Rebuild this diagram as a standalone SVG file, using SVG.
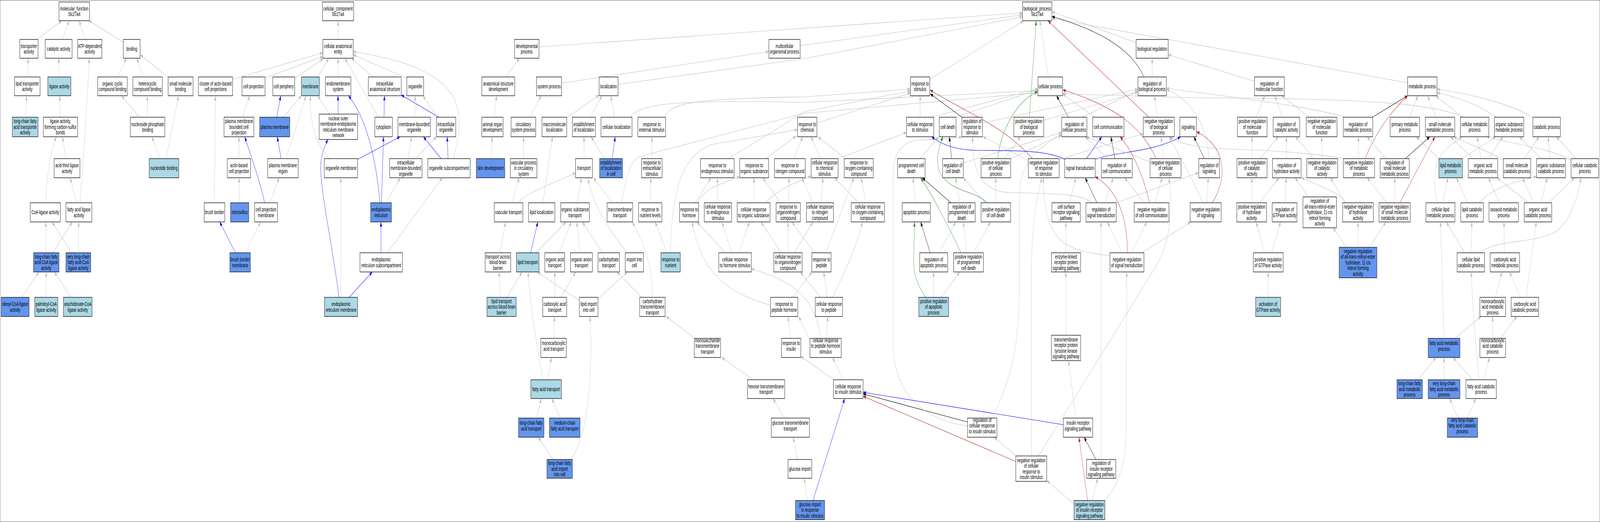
<svg xmlns="http://www.w3.org/2000/svg" width="6863" height="1336" viewBox="0 0 6863 1336" preserveAspectRatio="none">
<style>
svg:root{width:100vw;height:100vh}
text{font-family:"Liberation Sans",Arial,sans-serif;font-size:14.5px;text-anchor:middle;fill:#000}
rect{stroke:#000;stroke-width:1.3}
.w{fill:#fff}.l{fill:#add8e6}.c{fill:#6495ed}
path{fill:none;stroke-width:1.1}
.g{stroke:#c0c0c0;marker-end:url(#ag)}
.b{stroke:#0000ff;marker-end:url(#ab)}
.k{stroke:#000;marker-end:url(#ak)}
.r{stroke:#b22222;marker-end:url(#ar)}
.v{stroke:#228b22;marker-end:url(#av)}
</style>
<defs>
<marker id="ag" viewBox="0 0 12 9" refX="12" refY="4.5" markerWidth="12" markerHeight="9" markerUnits="userSpaceOnUse" orient="auto"><polygon points="0,0 12,4.5 0,9" fill="#c0c0c0"/></marker>
<marker id="ab" viewBox="0 0 12 9" refX="12" refY="4.5" markerWidth="12" markerHeight="9" markerUnits="userSpaceOnUse" orient="auto"><polygon points="0,0 12,4.5 0,9" fill="#0000ff"/></marker>
<marker id="ak" viewBox="0 0 12 9" refX="12" refY="4.5" markerWidth="12" markerHeight="9" markerUnits="userSpaceOnUse" orient="auto"><polygon points="0,0 12,4.5 0,9" fill="#000"/></marker>
<marker id="ar" viewBox="0 0 12 9" refX="12" refY="4.5" markerWidth="12" markerHeight="9" markerUnits="userSpaceOnUse" orient="auto"><polygon points="0,0 12,4.5 0,9" fill="#b22222"/></marker>
<marker id="av" viewBox="0 0 12 9" refX="12" refY="4.5" markerWidth="12" markerHeight="9" markerUnits="userSpaceOnUse" orient="auto"><polygon points="0,0 12,4.5 0,9" fill="#228b22"/></marker>
</defs>
<rect x="0" y="0" width="6863" height="1336" fill="#fff" stroke="none"/>
<g id="connectors">
<path class="g" d="M160,101 L265,53"/>
<path class="g" d="M268,101 L297,53"/>
<path class="g" d="M367,101 L339,53"/>
<path class="g" d="M529,108 L381,53"/>
<path class="g" d="M119,197 L121,149"/>
<path class="g" d="M254,197 L252,149"/>
<path class="g" d="M110,300 L114,245"/>
<path class="g" d="M258,300 L256,245"/>
<path class="g" d="M282,406 L268,350"/>
<path class="g" d="M197,519 C200,450 215,390 242,350"/>
<path class="g" d="M328,519 L301,455"/>
<path class="g" d="M343,519 C360,400 375,250 383,149"/>
<path class="g" d="M198,647 L196,568"/>
<path class="g" d="M227,647 L310,568"/>
<path class="g" d="M307,647 L223,568"/>
<path class="g" d="M337,647 L337,568"/>
<path class="g" d="M93,761 L167,696"/>
<path class="g" d="M198,761 L198,696"/>
<path class="g" d="M304,761 L233,696"/>
<path class="g" d="M504,197 L543,149"/>
<path class="g" d="M615,197 L587,149"/>
<path class="g" d="M721,197 L601,140"/>
<path class="g" d="M598,300 L521,245"/>
<path class="g" d="M632,300 L632,245"/>
<path class="g" d="M688,406 L651,350"/>
<path class="g" d="M712,406 L766,245"/>
<path class="g" d="M1450,101 L1450,53"/>
<path class="g" d="M998,203 L1385,135"/>
<path class="g" d="M1137,199 L1385,145"/>
<path class="g" d="M1264,201 L1387,150"/>
<path class="g" d="M1363,197 L1410,149"/>
<path class="g" d="M1450,197 L1450,149"/>
<path class="g" d="M1623,300 L1479,149"/>
<path class="g" d="M1600,197 L1508,149"/>
<path class="g" d="M1745,200 L1515,140"/>
<path class="g" d="M1944,406 C1975,340 1985,280 1930,235 C1850,170 1650,145 1515,132"/>
<path class="b" d="M1187,300 L1204,245"/>
<path class="g" d="M1215,300 L1293,245"/>
<path class="b" d="M1206,406 L1189,350"/>
<path class="g" d="M1227,406 L1313,245"/>
<path class="g" d="M1413,406 C1360,370 1330,330 1331,245"/>
<path class="g" d="M1414,292 L1363,245"/>
<path class="b" d="M1450,292 L1450,245"/>
<path class="b" d="M1630,519 C1615,420 1580,310 1495,245"/>
<path class="b" d="M1636,519 L1645,350"/>
<path class="g" d="M1656,519 L1717,455"/>
<path class="b" d="M1647,300 L1649,245"/>
<path class="b" d="M1882,300 L1721,243"/>
<path class="g" d="M1876,300 L1814,245"/>
<path class="g" d="M1779,300 L1781,245"/>
<path class="b" d="M1534,408 L1716,350"/>
<path class="g" d="M1749,406 L1766,350"/>
<path class="g" d="M1782,406 L1872,350"/>
<path class="b" d="M1892,406 L1816,350"/>
<path class="b" d="M1922,406 L1918,350"/>
<path class="b" d="M1634,647 L1634,568"/>
<path class="g" d="M1662,647 L1897,455"/>
<path class="b" d="M1498,761 L1597,696"/>
<path class="g" d="M1462,761 L1462,455"/>
<path class="b" d="M1454,761 C1430,640 1370,480 1376,420 C1380,390 1395,370 1407,357"/>
<path class="g" d="M1040,300 L1071,245"/>
<path class="g" d="M1025,406 L1025,350"/>
<path class="b" d="M1135,519 C1110,450 1075,400 1050,350"/>
<path class="g" d="M1157,519 L1198,455"/>
<path class="g" d="M1027,519 L1025,455"/>
<path class="g" d="M920,519 L924,245"/>
<path class="b" d="M1010,647 L942,568"/>
<path class="g" d="M1052,647 L1118,568"/>
<path class="g" d="M2312,120 L4386,33"/>
<path class="g" d="M3432,117 L4386,38"/>
<path class="g" d="M2651,216 L3450,150 L4386,43"/>
<path class="g" d="M3988,203 L4389,54"/>
<path class="g" d="M4873,109 L4512,30"/>
<path class="g" d="M6038,212 L4512,47"/>
<path class="k" d="M4907,197 C4850,120 4700,75 4512,42"/>
<path class="g" d="M4497,197 L4460,53"/>
<path class="v" d="M4415,300 L4445,53"/>
<path class="r" d="M4928,300 L4495,53"/>
<path class="g" d="M2409,213 L3298,132"/>
<path class="g" d="M2169,197 L2228,149"/>
<path class="g" d="M2120,300 L2130,245"/>
<path class="g" d="M2107,406 L2111,350"/>
<path class="g" d="M2272,300 L2322,245"/>
<path class="g" d="M2246,406 L2246,350"/>
<path class="g" d="M2195,519 L2228,455"/>
<path class="g" d="M2222,519 C2260,490 2380,470 2469,442"/>
<path class="g" d="M2145,647 L2169,568"/>
<path class="g" d="M2147,761 L2140,696"/>
<path class="g" d="M2175,761 L2239,696"/>
<path class="b" d="M2276,647 L2307,568"/>
<path class="g" d="M2300,647 L2428,568"/>
<path class="g" d="M2329,519 L2370,350"/>
<path class="g" d="M2431,302 L2570,243"/>
<path class="g" d="M2531,300 L2582,245"/>
<path class="g" d="M2636,300 L2620,245"/>
<path class="g" d="M2505,406 L2505,350"/>
<path class="g" d="M2593,406 L2535,350"/>
<path class="b" d="M2626,406 L2639,350"/>
<path class="g" d="M2476,519 L2494,455"/>
<path class="g" d="M2628,519 L2546,455"/>
<path class="g" d="M2398,647 L2450,568"/>
<path class="g" d="M2489,647 L2474,568"/>
<path class="g" d="M2585,647 L2498,568"/>
<path class="g" d="M2689,647 C2630,600 2550,540 2522,457"/>
<path class="g" d="M2380,761 L2380,696"/>
<path class="g" d="M2405,761 L2470,696"/>
<path class="g" d="M2565,765 L2691,696"/>
<path class="g" d="M2485,769 L2305,696"/>
<path class="g" d="M2753,761 L2646,696"/>
<path class="g" d="M2799,761 C2800,680 2760,620 2712,568"/>
<path class="g" d="M2981,866 L2857,810"/>
<path class="g" d="M3230,972 L3096,915"/>
<path class="g" d="M3364,1070 L3316,1020"/>
<path class="g" d="M3421,1176 L3402,1119"/>
<path class="g" d="M3462,1281 L3450,1224"/>
<path class="b" d="M3487,1281 L3623,1020"/>
<path class="g" d="M2375,866 L2378,810"/>
<path class="g" d="M2350,972 L2365,915"/>
<path class="g" d="M2328,972 C2310,900 2275,800 2265,696"/>
<path class="g" d="M2300,1070 L2322,1020"/>
<path class="g" d="M2403,1070 L2367,1020"/>
<path class="g" d="M2372,1176 L2309,1119"/>
<path class="g" d="M2447,1176 C2510,1130 2545,1000 2531,810"/>
<path class="g" d="M2848,300 C2880,265 2950,252 3450,248 L3905,228"/>
<path class="g" d="M2700,300 C2750,265 2880,255 3450,262 L4452,232"/>
<path class="g" d="M2796,406 L2796,350"/>
<path class="g" d="M2789,519 L2792,455"/>
<path class="g" d="M2861,647 L2810,568"/>
<path class="g" d="M2876,647 C2880,480 2930,400 3050,370 L3421,332"/>
<path class="g" d="M2667,519 C2690,430 2710,405 2760,398 L3450,290 L4452,237"/>
<path class="g" d="M3125,406 L3450,286 L3905,233"/>
<path class="g" d="M3504,315 L3905,238"/>
<path class="g" d="M3947,300 L3947,245"/>
<path class="g" d="M3996,300 L4452,227"/>
<path class="g" d="M4095,300 L4452,230"/>
<path class="k" d="M4126,300 L3990,240"/>
<path class="r" d="M4429,406 C4300,320 4150,290 3989,230"/>
<path class="k" d="M4583,300 L4532,245"/>
<path class="v" d="M4279,406 C4295,330 4360,260 4451,234"/>
<path class="r" d="M4959,406 C4900,330 4800,275 4559,230"/>
<path class="g" d="M3286,406 L3415,348"/>
<path class="g" d="M3404,406 L3443,350"/>
<path class="g" d="M3520,406 L3479,350"/>
<path class="g" d="M3595,406 L3888,339"/>
<path class="g" d="M3626,406 L3509,350"/>
<path class="g" d="M2982,519 L3049,455"/>
<path class="g" d="M2993,519 C3020,480 3100,470 3173,452"/>
<path class="g" d="M3079,519 L3077,455"/>
<path class="g" d="M3234,519 L3234,455"/>
<path class="g" d="M3281,519 C3350,480 3420,465 3479,451"/>
<path class="g" d="M3349,519 L3272,455"/>
<path class="g" d="M3382,519 L3385,455"/>
<path class="g" d="M3112,647 L2989,568"/>
<path class="g" d="M3138,647 L3097,568"/>
<path class="g" d="M3169,647 L3215,568"/>
<path class="g" d="M3351,647 L3264,568"/>
<path class="g" d="M3381,647 L3381,568"/>
<path class="g" d="M3407,647 L3487,568"/>
<path class="g" d="M3305,781 C3120,750 3010,700 2968,568"/>
<path class="g" d="M3400,761 L3483,696"/>
<path class="g" d="M3549,761 L3533,696"/>
<path class="g" d="M3520,761 L3433,696"/>
<path class="g" d="M3571,761 C3620,700 3670,640 3699,568"/>
<path class="g" d="M3494,647 L3397,568"/>
<path class="g" d="M3542,647 L3663,455"/>
<path class="g" d="M3487,519 L3440,455"/>
<path class="g" d="M3522,519 L3530,455"/>
<path class="g" d="M3683,519 L3580,455"/>
<path class="g" d="M3714,519 L3694,455"/>
<path class="g" d="M3474,870 L3426,810"/>
<path class="g" d="M3520,866 C3500,780 3440,725 3223,688"/>
<path class="g" d="M3545,866 L3551,810"/>
<path class="g" d="M3391,866 L3380,810"/>
<path class="g" d="M3577,972 L3435,912"/>
<path class="g" d="M3617,972 L3571,915"/>
<path class="k" d="M4150,1080 L3702,1008"/>
<path class="g" d="M4150,1090 C3950,1075 3831,1000 3831,880 L3831,450 C3831,390 3870,360 3950,358 C4050,356 4100,355 4126,350"/>
<path class="r" d="M4357,1181 L3702,1014"/>
<path class="g" d="M4359,1167 L4264,1119"/>
<path class="g" d="M4424,1167 L4424,700 C4424,600 4440,520 4469,455"/>
<path class="g" d="M4455,1167 L4960,680 C5020,620 5030,540 5014,455"/>
<path class="g" d="M4607,1290 L4490,1230"/>
<path class="g" d="M4257,1070 C4340,960 4373,900 4373,700 L4373,500 C4373,420 4450,375 4554,346"/>
<path class="g" d="M3946,406 L4026,350"/>
<path class="k" d="M4082,406 L4072,350"/>
<path class="g" d="M4132,417 L4554,339"/>
<path class="g" d="M4307,406 L4378,350"/>
<path class="g" d="M4336,406 L4554,344"/>
<path class="g" d="M4411,411 L4216,350"/>
<path class="g" d="M4543,408 L4904,342"/>
<path class="g" d="M3927,519 L3916,455"/>
<path class="k" d="M4079,519 L3956,455"/>
<path class="g" d="M4117,519 L4099,455"/>
<path class="g" d="M4227,519 L4132,455"/>
<path class="v" d="M4233,519 C4180,485 4080,495 4030,440 C4010,410 4030,370 4045,350"/>
<path class="g" d="M4271,519 L4271,455"/>
<path class="k" d="M3990,647 L3949,568"/>
<path class="g" d="M4028,647 L4099,568"/>
<path class="v" d="M4122,647 C4070,580 4000,500 3949,455"/>
<path class="g" d="M4147,647 L4132,568"/>
<path class="g" d="M4176,647 L4248,568"/>
<path class="v" d="M3971,761 C3925,720 3919,700 3919,650 L3923,568"/>
<path class="g" d="M4005,761 L4005,696"/>
<path class="g" d="M4037,761 L4117,696"/>
<path class="g" d="M4587,519 L4615,455"/>
<path class="g" d="M4572,647 L4572,568"/>
<path class="g" d="M4572,858 L4572,696"/>
<path class="g" d="M4615,1070 L4583,923"/>
<path class="b" d="M4561,1087 L3702,1004"/>
<path class="k" d="M4701,1176 L4650,1119"/>
<path class="r" d="M4665,1281 L4628,1119"/>
<path class="g" d="M4684,1281 L4709,1224"/>
<path class="g" d="M4739,1281 C4800,1240 4831,1180 4831,1100 L4833,696"/>
<path class="g" d="M4723,1176 L4723,568"/>
<path class="b" d="M4660,406 L4726,350"/>
<path class="b" d="M4699,408 C4780,388 4950,390 5064,350"/>
<path class="b" d="M4567,408 C4500,385 4350,385 4200,385 C4100,385 4040,370 3996,350"/>
<path class="g" d="M4695,300 L4558,240"/>
<path class="g" d="M4640,300 L4881,232"/>
<path class="g" d="M4477,308 L4881,236"/>
<path class="g" d="M4214,315 L4881,228"/>
<path class="g" d="M4964,300 L4952,245"/>
<path class="g" d="M4942,197 L4942,149"/>
<path class="g" d="M5381,208 L5011,140"/>
<path class="k" d="M4782,406 L4765,350"/>
<path class="g" d="M4750,406 L4655,350"/>
<path class="g" d="M4992,406 L4980,350"/>
<path class="g" d="M4934,415 L4660,350"/>
<path class="k" d="M5166,406 L5121,350"/>
<path class="g" d="M5185,406 C5180,320 5110,255 5003,229"/>
<path class="k" d="M4705,519 L4655,455"/>
<path class="g" d="M4739,519 L4775,455"/>
<path class="g" d="M4789,519 L5141,442"/>
<path class="g" d="M4684,519 C4640,498 4560,495 4330,493 C4200,490 4170,430 4172,350"/>
<path class="r" d="M4931,519 C4900,440 4850,380 4804,350"/>
<path class="g" d="M4908,519 L4824,455"/>
<path class="g" d="M4954,519 L4985,455"/>
<path class="r" d="M5200,519 C5260,460 5270,380 5133,337"/>
<path class="g" d="M5176,519 L5183,455"/>
<path class="g" d="M5159,519 C5120,460 5060,400 5014,350"/>
<path class="r" d="M4836,647 C4835,560 4800,490 4698,452"/>
<path class="g" d="M4813,647 L4750,568"/>
<path class="g" d="M4853,647 L4919,568"/>
<path class="g" d="M4897,647 L5108,568"/>
<path class="g" d="M4761,655 C4600,640 4476,640 4475,455"/>
<path class="g" d="M5771,300 C5600,270 5300,250 5003,226"/>
<path class="g" d="M5762,406 C5700,398 5500,385 5300,382 C5150,380 5060,370 5018,350"/>
<path class="g" d="M6275,300 C6150,262 5800,252 5100,250 L4558,240"/>
<path class="g" d="M5388,300 L5425,245"/>
<path class="g" d="M5501,300 L5468,245"/>
<path class="g" d="M5616,300 L5498,245"/>
<path class="g" d="M5370,406 L5370,350"/>
<path class="g" d="M5405,406 L5484,350"/>
<path class="g" d="M5518,406 L5518,350"/>
<path class="g" d="M5636,406 L5557,350"/>
<path class="g" d="M5671,406 L5669,350"/>
<path class="g" d="M5370,519 L5370,455"/>
<path class="g" d="M5403,519 L5486,455"/>
<path class="g" d="M5513,519 L5517,455"/>
<path class="g" d="M5612,504 L5555,455"/>
<path class="g" d="M5770,519 C5760,500 5700,485 5583,455"/>
<path class="g" d="M5771,519 L5707,455"/>
<path class="g" d="M5425,647 L5388,568"/>
<path class="g" d="M5454,647 L5493,568"/>
<path class="g" d="M5440,761 L5440,696"/>
<path class="g" d="M5775,633 L5718,583"/>
<path class="g" d="M5825,633 L5825,568"/>
<path class="g" d="M5874,633 L5945,568"/>
<path class="k" d="M5887,300 L6038,245"/>
<path class="r" d="M5855,406 C5900,340 5960,290 6038,245"/>
<path class="g" d="M5828,406 L5827,350"/>
<path class="g" d="M5945,406 L5864,350"/>
<path class="k" d="M6028,406 L6133,350"/>
<path class="g" d="M5983,519 L5983,455"/>
<path class="r" d="M6004,519 L6155,350"/>
<path class="g" d="M5949,519 L5864,455"/>
<path class="g" d="M6045,300 L6082,245"/>
<path class="g" d="M6160,300 L6123,245"/>
<path class="g" d="M6275,300 L6158,245"/>
<path class="g" d="M6417,300 C6350,270 6260,250 6164,237"/>
<path class="g" d="M6573,300 C6480,265 6300,240 6164,228"/>
<path class="g" d="M6172,406 L6075,350"/>
<path class="g" d="M6272,406 L6416,350"/>
<path class="g" d="M6189,519 L6211,455"/>
<path class="g" d="M6165,519 C6140,430 6150,395 6272,350"/>
<path class="g" d="M6295,519 L6247,455"/>
<path class="g" d="M6346,519 C6400,480 6500,465 6591,452"/>
<path class="g" d="M6318,406 L6222,350"/>
<path class="g" d="M6387,406 L6446,350"/>
<path class="g" d="M6352,406 L6336,350"/>
<path class="g" d="M6448,410 C6380,385 6300,370 6236,350"/>
<path class="g" d="M6538,406 L6602,350"/>
<path class="g" d="M6612,406 L6517,350"/>
<path class="g" d="M6648,406 L6641,350"/>
<path class="g" d="M6761,406 L6676,350"/>
<path class="g" d="M6739,410 C6650,380 6500,370 6378,350"/>
<path class="g" d="M6431,519 L6384,455"/>
<path class="g" d="M6556,519 L6421,455"/>
<path class="g" d="M6577,519 L6531,455"/>
<path class="g" d="M6609,519 L6637,455"/>
<path class="g" d="M6641,519 L6754,455"/>
<path class="g" d="M6282,647 L6204,568"/>
<path class="g" d="M6311,647 L6313,568"/>
<path class="g" d="M6346,647 C6420,610 6600,625 6680,590 C6740,560 6770,500 6781,455"/>
<path class="g" d="M6453,647 L6451,568"/>
<path class="g" d="M6194,866 L6179,568"/>
<path class="g" d="M6241,866 L6353,810"/>
<path class="g" d="M6414,761 L6442,696"/>
<path class="g" d="M6522,761 L6475,696"/>
<path class="g" d="M6546,761 L6590,568"/>
<path class="g" d="M6402,866 L6402,810"/>
<path class="g" d="M6435,866 L6506,810"/>
<path class="g" d="M6082,972 L6160,915"/>
<path class="g" d="M6194,972 L6194,915"/>
<path class="g" d="M6316,972 L6233,915"/>
<path class="g" d="M6364,972 L6389,915"/>
<path class="g" d="M6345,972 C6330,880 6315,780 6311,696"/>
<path class="g" d="M6253,1070 L6218,1020"/>
<path class="g" d="M6293,1070 L6331,1020"/>
</g>
<g id="n_molecular_function"><rect class="w" x="253" y="5" width="131" height="48"/><text x="318.5" y="26.75">molecular_function<tspan x="318.5" dy="14.5">Slc27a4</tspan></text></g>
<g id="n_transporter_activity"><rect class="w" x="85" y="101" width="78" height="48"/><text x="124" y="122.75">transporter<tspan x="124" dy="14.5">activity</tspan></text></g>
<g id="n_catalytic_activity"><rect class="w" x="194" y="101" width="115" height="48"/><text x="251.5" y="130">catalytic activity</text></g>
<g id="n_atp_dependent_activity"><rect class="w" x="333" y="101" width="104" height="48"/><text x="385" y="122.75">ATP-dependent<tspan x="385" dy="14.5">activity</tspan></text></g>
<g id="n_binding"><rect class="w" x="529" y="101" width="72" height="48"/><text x="565" y="130">binding</text></g>
<g id="n_lipid_transporter_activity"><rect class="w" x="62" y="197" width="110" height="48"/><text x="117" y="218.75">lipid transporter<tspan x="117" dy="14.5">activity</tspan></text></g>
<g id="n_ligase_activity"><rect class="l" x="205" y="197" width="99" height="48"/><text x="254.5" y="226">ligase activity</text></g>
<g id="n_organic_cyclic_compound_binding"><rect class="w" x="419" y="197" width="127" height="48"/><text x="482.5" y="218.75">organic cyclic<tspan x="482.5" dy="14.5">compound binding</tspan></text></g>
<g id="n_heterocyclic_compound_binding"><rect class="w" x="570" y="197" width="126" height="48"/><text x="633" y="218.75">heterocyclic<tspan x="633" dy="14.5">compound binding</tspan></text></g>
<g id="n_small_molecule_binding"><rect class="w" x="721" y="197" width="107" height="48"/><text x="774.5" y="218.75">small molecule<tspan x="774.5" dy="14.5">binding</tspan></text></g>
<g id="n_lcfa_transporter_activity"><rect class="l" x="53" y="300" width="110" height="50"/><text x="108" y="315.5">long-chain fatty<tspan x="108" dy="14.5">acid transporter</tspan><tspan x="108" dy="14.5">activity</tspan></text></g>
<g id="n_ligase_cs"><rect class="w" x="186" y="300" width="147" height="50"/><text x="259.5" y="315.5">ligase activity,<tspan x="259.5" dy="14.5">forming carbon-sulfur</tspan><tspan x="259.5" dy="14.5">bonds</tspan></text></g>
<g id="n_nucleoside_phosphate_binding"><rect class="w" x="559" y="300" width="148" height="50"/><text x="633" y="322.75">nucleoside phosphate<tspan x="633" dy="14.5">binding</tspan></text></g>
<g id="n_acid_thiol_ligase_activity"><rect class="w" x="232" y="406" width="111" height="49"/><text x="287.5" y="428.25">acid-thiol ligase<tspan x="287.5" dy="14.5">activity</tspan></text></g>
<g id="n_nucleotide_binding"><rect class="l" x="640" y="406" width="127" height="49"/><text x="703.5" y="435.5">nucleotide binding</text></g>
<g id="n_coa_ligase_activity"><rect class="w" x="130" y="519" width="129" height="49"/><text x="194.5" y="548.5">CoA-ligase activity</text></g>
<g id="n_fatty_acid_ligase_activity"><rect class="w" x="283" y="519" width="111" height="49"/><text x="338.5" y="541.25">fatty acid ligase<tspan x="338.5" dy="14.5">activity</tspan></text></g>
<g id="n_lcfa_coa_ligase_activity"><rect class="c" x="144" y="647" width="109" height="49"/><text x="198.5" y="662">long-chain fatty<tspan x="198.5" dy="14.5">acid-CoA ligase</tspan><tspan x="198.5" dy="14.5">activity</tspan></text></g>
<g id="n_vlcfa_coa_ligase_activity"><rect class="c" x="283" y="647" width="106" height="49"/><text x="336" y="662">very long-chain<tspan x="336" dy="14.5">fatty acid-CoA</tspan><tspan x="336" dy="14.5">ligase activity</tspan></text></g>
<g id="n_oleoyl_coa_ligase_activity"><rect class="c" x="5" y="761" width="120" height="49"/><text x="65" y="783.25">oleoyl-CoA ligase<tspan x="65" dy="14.5">activity</tspan></text></g>
<g id="n_palmitoyl_coa_ligase_activity"><rect class="l" x="149" y="761" width="99" height="49"/><text x="198.5" y="783.25">palmitoyl-CoA<tspan x="198.5" dy="14.5">ligase activity</tspan></text></g>
<g id="n_arachidonate_coa_ligase_activity"><rect class="l" x="272" y="761" width="123" height="49"/><text x="333.5" y="783.25">arachidonate-CoA<tspan x="333.5" dy="14.5">ligase activity</tspan></text></g>
<g id="n_cellular_component"><rect class="w" x="1383" y="5" width="134" height="48"/><text x="1450" y="26.75">cellular_component<tspan x="1450" dy="14.5">Slc27a4</tspan></text></g>
<g id="n_cellular_anatomical_entity"><rect class="w" x="1385" y="101" width="130" height="48"/><text x="1450" y="122.75">cellular anatomical<tspan x="1450" dy="14.5">entity</tspan></text></g>
<g id="n_cluster_actin"><rect class="w" x="851" y="197" width="147" height="48"/><text x="924.5" y="218.75">cluster of actin-based<tspan x="924.5" dy="14.5">cell projections</tspan></text></g>
<g id="n_cell_projection"><rect class="w" x="1038" y="197" width="99" height="48"/><text x="1087.5" y="226">cell projection</text></g>
<g id="n_cell_periphery"><rect class="w" x="1170" y="197" width="94" height="48"/><text x="1217" y="226">cell periphery</text></g>
<g id="n_membrane"><rect class="l" x="1293" y="197" width="77" height="48"/><text x="1331.5" y="226">membrane</text></g>
<g id="n_endomembrane_system"><rect class="w" x="1396" y="197" width="109" height="48"/><text x="1450.5" y="218.75">endomembrane<tspan x="1450.5" dy="14.5">system</tspan></text></g>
<g id="n_intracellular_anatomical_structure"><rect class="w" x="1580" y="197" width="141" height="48"/><text x="1650.5" y="218.75">intracellular<tspan x="1650.5" dy="14.5">anatomical structure</tspan></text></g>
<g id="n_organelle"><rect class="w" x="1745" y="197" width="72" height="48"/><text x="1781" y="226">organelle</text></g>
<g id="n_pm_bounded_cell_projection"><rect class="w" x="961" y="300" width="128" height="50"/><text x="1025" y="315.5">plasma membrane<tspan x="1025" dy="14.5">bounded cell</tspan><tspan x="1025" dy="14.5">projection</tspan></text></g>
<g id="n_plasma_membrane"><rect class="c" x="1114" y="300" width="129" height="50"/><text x="1178.5" y="330">plasma membrane</text></g>
<g id="n_nuclear_outer_membrane_er_network"><rect class="w" x="1369" y="292" width="165" height="65"/><text x="1451.5" y="307.75">nuclear outer<tspan x="1451.5" dy="14.5">membrane-endoplasmic</tspan><tspan x="1451.5" dy="14.5">reticulum membrane</tspan><tspan x="1451.5" dy="14.5">network</tspan></text></g>
<g id="n_cytoplasm"><rect class="w" x="1608" y="300" width="75" height="50"/><text x="1645.5" y="330">cytoplasm</text></g>
<g id="n_membrane_bounded_organelle"><rect class="w" x="1707" y="300" width="139" height="50"/><text x="1776.5" y="322.75">membrane-bounded<tspan x="1776.5" dy="14.5">organelle</tspan></text></g>
<g id="n_intracellular_organelle"><rect class="w" x="1872" y="300" width="83" height="50"/><text x="1913.5" y="322.75">intracellular<tspan x="1913.5" dy="14.5">organelle</tspan></text></g>
<g id="n_actin_based_cell_projection"><rect class="w" x="975" y="406" width="100" height="49"/><text x="1025" y="428.25">actin-based<tspan x="1025" dy="14.5">cell projection</tspan></text></g>
<g id="n_plasma_membrane_region"><rect class="w" x="1148" y="406" width="131" height="49"/><text x="1213.5" y="428.25">plasma membrane<tspan x="1213.5" dy="14.5">region</tspan></text></g>
<g id="n_organelle_membrane"><rect class="w" x="1391" y="406" width="143" height="49"/><text x="1462.5" y="435.5">organelle membrane</text></g>
<g id="n_intracellular_mbo"><rect class="w" x="1671" y="406" width="139" height="49"/><text x="1740.5" y="421">intracellular<tspan x="1740.5" dy="14.5">membrane-bounded</tspan><tspan x="1740.5" dy="14.5">organelle</tspan></text></g>
<g id="n_organelle_subcompartment"><rect class="w" x="1835" y="406" width="182" height="49"/><text x="1926" y="435.5">organelle subcompartment</text></g>
<g id="n_brush_border"><rect class="w" x="876" y="519" width="88" height="49"/><text x="920" y="548.5">brush border</text></g>
<g id="n_microvillus"><rect class="c" x="989" y="519" width="78" height="49"/><text x="1028" y="548.5">microvillus</text></g>
<g id="n_cell_projection_membrane"><rect class="w" x="1092" y="519" width="98" height="49"/><text x="1141" y="541.25">cell projection<tspan x="1141" dy="14.5">membrane</tspan></text></g>
<g id="n_endoplasmic_reticulum"><rect class="c" x="1590" y="519" width="89" height="49"/><text x="1634.5" y="541.25">endoplasmic<tspan x="1634.5" dy="14.5">reticulum</tspan></text></g>
<g id="n_brush_border_membrane"><rect class="c" x="986" y="647" width="88" height="49"/><text x="1030" y="669.25">brush border<tspan x="1030" dy="14.5">membrane</tspan></text></g>
<g id="n_er_subcompartment"><rect class="w" x="1544" y="647" width="182" height="49"/><text x="1635" y="669.25">endoplasmic<tspan x="1635" dy="14.5">reticulum subcompartment</tspan></text></g>
<g id="n_er_membrane"><rect class="l" x="1392" y="761" width="142" height="49"/><text x="1463" y="783.25">endoplasmic<tspan x="1463" dy="14.5">reticulum membrane</tspan></text></g>
<g id="n_biological_process"><rect class="w" x="4386" y="5" width="126" height="48"/><text x="4449" y="26.75">biological_process<tspan x="4449" dy="14.5">Slc27a4</tspan></text></g>
<g id="n_developmental_process"><rect class="w" x="2207" y="101" width="105" height="48"/><text x="2259.5" y="122.75">developmental<tspan x="2259.5" dy="14.5">process</tspan></text></g>
<g id="n_multicellular_organismal_process"><rect class="w" x="3298" y="101" width="134" height="48"/><text x="3365" y="122.75">multicellular<tspan x="3365" dy="14.5">organismal process</tspan></text></g>
<g id="n_biological_regulation"><rect class="w" x="4873" y="101" width="138" height="48"/><text x="4942" y="130">biological regulation</text></g>
<g id="n_anatomical_structure_development"><rect class="w" x="2067" y="197" width="141" height="48"/><text x="2137.5" y="218.75">anatomical structure<tspan x="2137.5" dy="14.5">development</tspan></text></g>
<g id="n_system_process"><rect class="w" x="2301" y="197" width="108" height="48"/><text x="2355" y="226">system process</text></g>
<g id="n_localization"><rect class="w" x="2570" y="197" width="81" height="48"/><text x="2610.5" y="226">localization</text></g>
<g id="n_response_to_stimulus"><rect class="w" x="3905" y="197" width="83" height="48"/><text x="3946.5" y="218.75">response to<tspan x="3946.5" dy="14.5">stimulus</tspan></text></g>
<g id="n_cellular_process"><rect class="w" x="4452" y="197" width="106" height="48"/><text x="4505" y="226">cellular process</text></g>
<g id="n_regulation_of_biological_process"><rect class="w" x="4881" y="197" width="122" height="48"/><text x="4942" y="218.75">regulation of<tspan x="4942" dy="14.5">biological process</tspan></text></g>
<g id="n_regulation_of_molecular_function"><rect class="w" x="5381" y="197" width="128" height="48"/><text x="5445" y="218.75">regulation of<tspan x="5445" dy="14.5">molecular function</tspan></text></g>
<g id="n_metabolic_process"><rect class="w" x="6038" y="197" width="126" height="48"/><text x="6101" y="226">metabolic process</text></g>
<g id="n_animal_organ_development"><rect class="w" x="2067" y="300" width="91" height="50"/><text x="2112.5" y="322.75">animal organ<tspan x="2112.5" dy="14.5">development</tspan></text></g>
<g id="n_circulatory_system_process"><rect class="w" x="2192" y="300" width="106" height="50"/><text x="2245" y="322.75">circulatory<tspan x="2245" dy="14.5">system process</tspan></text></g>
<g id="n_macromolecule_localization"><rect class="w" x="2325" y="300" width="106" height="50"/><text x="2378" y="322.75">macromolecule<tspan x="2378" dy="14.5">localization</tspan></text></g>
<g id="n_establishment_of_localization"><rect class="w" x="2455" y="300" width="99" height="50"/><text x="2504.5" y="322.75">establishment<tspan x="2504.5" dy="14.5">of localization</tspan></text></g>
<g id="n_cellular_localization"><rect class="w" x="2578" y="300" width="133" height="50"/><text x="2644.5" y="330">cellular localization</text></g>
<g id="n_response_to_external_stimulus"><rect class="w" x="2736" y="300" width="119" height="50"/><text x="2795.5" y="322.75">response to<tspan x="2795.5" dy="14.5">external stimulus</tspan></text></g>
<g id="n_response_to_chemical"><rect class="w" x="3421" y="300" width="83" height="50"/><text x="3462.5" y="322.75">response to<tspan x="3462.5" dy="14.5">chemical</tspan></text></g>
<g id="n_cellular_response_to_stimulus"><rect class="w" x="3888" y="300" width="117" height="50"/><text x="3946.5" y="322.75">cellular response<tspan x="3946.5" dy="14.5">to stimulus</tspan></text></g>
<g id="n_cell_death"><rect class="w" x="4029" y="300" width="72" height="50"/><text x="4065" y="330">cell death</text></g>
<g id="n_regulation_of_response_to_stimulus"><rect class="w" x="4126" y="300" width="88" height="50"/><text x="4170" y="315.5">regulation of<tspan x="4170" dy="14.5">response to</tspan><tspan x="4170" dy="14.5">stimulus</tspan></text></g>
<g id="n_pos_reg_biological_process"><rect class="w" x="4349" y="300" width="128" height="50"/><text x="4413" y="315.5">positive regulation<tspan x="4413" dy="14.5">of biological</tspan><tspan x="4413" dy="14.5">process</tspan></text></g>
<g id="n_regulation_of_cellular_process"><rect class="w" x="4554" y="300" width="108" height="50"/><text x="4608" y="322.75">regulation of<tspan x="4608" dy="14.5">cellular process</tspan></text></g>
<g id="n_cell_communication"><rect class="w" x="4687" y="300" width="134" height="50"/><text x="4754" y="330">cell communication</text></g>
<g id="n_neg_reg_biological_process"><rect class="w" x="4904" y="300" width="133" height="50"/><text x="4970.5" y="315.5">negative regulation<tspan x="4970.5" dy="14.5">of biological</tspan><tspan x="4970.5" dy="14.5">process</tspan></text></g>
<g id="n_signaling"><rect class="w" x="5061" y="300" width="71" height="50"/><text x="5096.5" y="330">signaling</text></g>
<g id="n_pos_reg_molecular_function"><rect class="w" x="5308" y="300" width="127" height="50"/><text x="5371.5" y="315.5">positive regulation<tspan x="5371.5" dy="14.5">of molecular</tspan><tspan x="5371.5" dy="14.5">function</tspan></text></g>
<g id="n_regulation_of_catalytic_activity"><rect class="w" x="5461" y="300" width="114" height="50"/><text x="5518" y="322.75">regulation of<tspan x="5518" dy="14.5">catalytic activity</tspan></text></g>
<g id="n_neg_reg_molecular_function"><rect class="w" x="5603" y="300" width="132" height="50"/><text x="5669" y="315.5">negative regulation<tspan x="5669" dy="14.5">of molecular</tspan><tspan x="5669" dy="14.5">function</tspan></text></g>
<g id="n_regulation_of_metabolic_process"><rect class="w" x="5762" y="300" width="126" height="50"/><text x="5825" y="322.75">regulation of<tspan x="5825" dy="14.5">metabolic process</tspan></text></g>
<g id="n_primary_metabolic_process"><rect class="w" x="5963" y="300" width="126" height="50"/><text x="6026" y="322.75">primary metabolic<tspan x="6026" dy="14.5">process</tspan></text></g>
<g id="n_small_molecule_metabolic_process"><rect class="w" x="6114" y="300" width="126" height="50"/><text x="6177" y="322.75">small molecule<tspan x="6177" dy="14.5">metabolic process</tspan></text></g>
<g id="n_cellular_metabolic_process"><rect class="w" x="6264" y="300" width="122" height="50"/><text x="6325" y="322.75">cellular metabolic<tspan x="6325" dy="14.5">process</tspan></text></g>
<g id="n_organic_substance_metabolic_process"><rect class="w" x="6410" y="300" width="126" height="50"/><text x="6473" y="322.75">organic substance<tspan x="6473" dy="14.5">metabolic process</tspan></text></g>
<g id="n_catabolic_process"><rect class="w" x="6575" y="300" width="118" height="50"/><text x="6634" y="330">catabolic process</text></g>
<g id="n_skin_development"><rect class="c" x="2043" y="406" width="122" height="49"/><text x="2104" y="435.5">skin development</text></g>
<g id="n_vascular_process"><rect class="w" x="2189" y="406" width="114" height="49"/><text x="2246" y="421">vascular process<tspan x="2246" dy="14.5">in circulatory</tspan><tspan x="2246" dy="14.5">system</tspan></text></g>
<g id="n_transport"><rect class="w" x="2469" y="406" width="72" height="49"/><text x="2505" y="435.5">transport</text></g>
<g id="n_establishment_of_localization_in_cell"><rect class="c" x="2572" y="406" width="98" height="49"/><text x="2621" y="421">establishment<tspan x="2621" dy="14.5">of localization</tspan><tspan x="2621" dy="14.5">in cell</tspan></text></g>
<g id="n_response_to_extracellular_stimulus"><rect class="w" x="2752" y="406" width="88" height="49"/><text x="2796" y="421">response to<tspan x="2796" dy="14.5">extracellular</tspan><tspan x="2796" dy="14.5">stimulus</tspan></text></g>
<g id="n_response_to_endogenous_stimulus"><rect class="w" x="3005" y="406" width="144" height="49"/><text x="3077" y="428.25">response to<tspan x="3077" dy="14.5">endogenous stimulus</tspan></text></g>
<g id="n_response_to_organic_substance"><rect class="w" x="3173" y="406" width="124" height="49"/><text x="3235" y="428.25">response to<tspan x="3235" dy="14.5">organic substance</tspan></text></g>
<g id="n_response_to_nitrogen_compound"><rect class="w" x="3322" y="406" width="132" height="49"/><text x="3388" y="428.25">response to<tspan x="3388" dy="14.5">nitrogen compound</tspan></text></g>
<g id="n_cellular_response_to_chemical_stimulus"><rect class="w" x="3479" y="406" width="116" height="49"/><text x="3537" y="421">cellular response<tspan x="3537" dy="14.5">to chemical</tspan><tspan x="3537" dy="14.5">stimulus</tspan></text></g>
<g id="n_response_to_oxygen_containing_compound"><rect class="w" x="3621" y="406" width="125" height="49"/><text x="3683.5" y="421">response to<tspan x="3683.5" dy="14.5">oxygen-containing</tspan><tspan x="3683.5" dy="14.5">compound</tspan></text></g>
<g id="n_programmed_cell_death"><rect class="w" x="3850" y="406" width="118" height="49"/><text x="3909" y="428.25">programmed cell<tspan x="3909" dy="14.5">death</tspan></text></g>
<g id="n_regulation_of_cell_death"><rect class="w" x="4043" y="406" width="89" height="49"/><text x="4087.5" y="428.25">regulation of<tspan x="4087.5" dy="14.5">cell death</tspan></text></g>
<g id="n_pos_reg_cellular_process"><rect class="w" x="4208" y="406" width="127" height="49"/><text x="4271.5" y="421">positive regulation<tspan x="4271.5" dy="14.5">of cellular</tspan><tspan x="4271.5" dy="14.5">process</tspan></text></g>
<g id="n_neg_reg_response_to_stimulus"><rect class="w" x="4411" y="406" width="132" height="49"/><text x="4477" y="421">negative regulation<tspan x="4477" dy="14.5">of response</tspan><tspan x="4477" dy="14.5">to stimulus</tspan></text></g>
<g id="n_signal_transduction"><rect class="w" x="4567" y="406" width="131" height="49"/><text x="4632.5" y="435.5">signal transduction</text></g>
<g id="n_regulation_of_cell_communication"><rect class="w" x="4724" y="406" width="133" height="49"/><text x="4790.5" y="428.25">regulation of<tspan x="4790.5" dy="14.5">cell communication</tspan></text></g>
<g id="n_neg_reg_cellular_process"><rect class="w" x="4933" y="406" width="133" height="49"/><text x="4999.5" y="421">negative regulation<tspan x="4999.5" dy="14.5">of cellular</tspan><tspan x="4999.5" dy="14.5">process</tspan></text></g>
<g id="n_regulation_of_signaling"><rect class="w" x="5142" y="406" width="89" height="49"/><text x="5186.5" y="428.25">regulation of<tspan x="5186.5" dy="14.5">signaling</tspan></text></g>
<g id="n_pos_reg_catalytic_activity"><rect class="w" x="5306" y="406" width="129" height="49"/><text x="5370.5" y="421">positive regulation<tspan x="5370.5" dy="14.5">of catalytic</tspan><tspan x="5370.5" dy="14.5">activity</tspan></text></g>
<g id="n_regulation_of_hydrolase_activity"><rect class="w" x="5458" y="406" width="123" height="49"/><text x="5519.5" y="428.25">regulation of<tspan x="5519.5" dy="14.5">hydrolase activity</tspan></text></g>
<g id="n_neg_reg_catalytic_activity"><rect class="w" x="5605" y="406" width="133" height="49"/><text x="5671.5" y="421">negative regulation<tspan x="5671.5" dy="14.5">of catalytic</tspan><tspan x="5671.5" dy="14.5">activity</tspan></text></g>
<g id="n_neg_reg_metabolic_process"><rect class="w" x="5762" y="406" width="134" height="49"/><text x="5829" y="421">negative regulation<tspan x="5829" dy="14.5">of metabolic</tspan><tspan x="5829" dy="14.5">process</tspan></text></g>
<g id="n_reg_small_molecule_metabolic_process"><rect class="w" x="5920" y="406" width="125" height="49"/><text x="5982.5" y="421">regulation of<tspan x="5982.5" dy="14.5">small molecule</tspan><tspan x="5982.5" dy="14.5">metabolic process</tspan></text></g>
<g id="n_lipid_metabolic_process"><rect class="l" x="6172" y="406" width="101" height="49"/><text x="6222.5" y="428.25">lipid metabolic<tspan x="6222.5" dy="14.5">process</tspan></text></g>
<g id="n_organic_acid_metabolic_process"><rect class="w" x="6298" y="406" width="126" height="49"/><text x="6361" y="428.25">organic acid<tspan x="6361" dy="14.5">metabolic process</tspan></text></g>
<g id="n_small_molecule_catabolic_process"><rect class="w" x="6448" y="406" width="118" height="49"/><text x="6507" y="428.25">small molecule<tspan x="6507" dy="14.5">catabolic process</tspan></text></g>
<g id="n_organic_substance_catabolic_process"><rect class="w" x="6591" y="406" width="124" height="49"/><text x="6653" y="428.25">organic substance<tspan x="6653" dy="14.5">catabolic process</tspan></text></g>
<g id="n_cellular_catabolic_process"><rect class="w" x="6739" y="406" width="118" height="49"/><text x="6798" y="428.25">cellular catabolic<tspan x="6798" dy="14.5">process</tspan></text></g>
<g id="n_vascular_transport"><rect class="w" x="2120" y="519" width="123" height="49"/><text x="2181.5" y="548.5">vascular transport</text></g>
<g id="n_lipid_localization"><rect class="w" x="2267" y="519" width="113" height="49"/><text x="2323.5" y="548.5">lipid localization</text></g>
<g id="n_organic_substance_transport"><rect class="w" x="2405" y="519" width="123" height="49"/><text x="2466.5" y="541.25">organic substance<tspan x="2466.5" dy="14.5">transport</tspan></text></g>
<g id="n_transmembrane_transport"><rect class="w" x="2604" y="519" width="110" height="49"/><text x="2659" y="541.25">transmembrane<tspan x="2659" dy="14.5">transport</tspan></text></g>
<g id="n_response_to_nutrient_levels"><rect class="w" x="2739" y="519" width="100" height="49"/><text x="2789" y="541.25">response to<tspan x="2789" dy="14.5">nutrient levels</tspan></text></g>
<g id="n_response_to_hormone"><rect class="w" x="2915" y="519" width="82" height="49"/><text x="2956" y="541.25">response to<tspan x="2956" dy="14.5">hormone</tspan></text></g>
<g id="n_cellular_response_to_endogenous_stimulus"><rect class="w" x="3021" y="519" width="117" height="49"/><text x="3079.5" y="534">cellular response<tspan x="3079.5" dy="14.5">to endogenous</tspan><tspan x="3079.5" dy="14.5">stimulus</tspan></text></g>
<g id="n_cellular_response_to_organic_substance"><rect class="w" x="3162" y="519" width="141" height="49"/><text x="3232.5" y="541.25">cellular response<tspan x="3232.5" dy="14.5">to organic substance</tspan></text></g>
<g id="n_response_to_organonitrogen_compound"><rect class="w" x="3329" y="519" width="104" height="49"/><text x="3381" y="534">response to<tspan x="3381" dy="14.5">organonitrogen</tspan><tspan x="3381" dy="14.5">compound</tspan></text></g>
<g id="n_cellular_response_to_nitrogen_compound"><rect class="w" x="3459" y="519" width="116" height="49"/><text x="3517" y="534">cellular response<tspan x="3517" dy="14.5">to nitrogen</tspan><tspan x="3517" dy="14.5">compound</tspan></text></g>
<g id="n_cellular_response_to_oxygen_containing_compound"><rect class="w" x="3651" y="519" width="143" height="49"/><text x="3722.5" y="534">cellular response<tspan x="3722.5" dy="14.5">to oxygen-containing</tspan><tspan x="3722.5" dy="14.5">compound</tspan></text></g>
<g id="n_apoptotic_process"><rect class="w" x="3870" y="519" width="121" height="49"/><text x="3930.5" y="548.5">apoptotic process</text></g>
<g id="n_regulation_of_programmed_cell_death"><rect class="w" x="4067" y="519" width="116" height="49"/><text x="4125" y="534">regulation of<tspan x="4125" dy="14.5">programmed cell</tspan><tspan x="4125" dy="14.5">death</tspan></text></g>
<g id="n_pos_reg_cell_death"><rect class="w" x="4208" y="519" width="127" height="49"/><text x="4271.5" y="541.25">positive regulation<tspan x="4271.5" dy="14.5">of cell death</tspan></text></g>
<g id="n_cell_surface_receptor_signaling_pathway"><rect class="w" x="4512" y="519" width="122" height="49"/><text x="4573" y="534">cell surface<tspan x="4573" dy="14.5">receptor signaling</tspan><tspan x="4573" dy="14.5">pathway</tspan></text></g>
<g id="n_regulation_of_signal_transduction"><rect class="w" x="4658" y="519" width="130" height="49"/><text x="4723" y="541.25">regulation of<tspan x="4723" dy="14.5">signal transduction</tspan></text></g>
<g id="n_neg_reg_cell_communication"><rect class="w" x="4865" y="519" width="149" height="49"/><text x="4939.5" y="541.25">negative regulation<tspan x="4939.5" dy="14.5">of cell communication</tspan></text></g>
<g id="n_neg_reg_signaling"><rect class="w" x="5105" y="519" width="133" height="49"/><text x="5171.5" y="541.25">negative regulation<tspan x="5171.5" dy="14.5">of signaling</tspan></text></g>
<g id="n_pos_reg_hydrolase_activity"><rect class="w" x="5305" y="519" width="128" height="49"/><text x="5369" y="534">positive regulation<tspan x="5369" dy="14.5">of hydrolase</tspan><tspan x="5369" dy="14.5">activity</tspan></text></g>
<g id="n_regulation_of_gtpase_activity"><rect class="w" x="5457" y="519" width="106" height="49"/><text x="5510" y="541.25">regulation of<tspan x="5510" dy="14.5">GTPase activity</tspan></text></g>
<g id="n_reg_retinyl_ester_hydrolase"><rect class="w" x="5589" y="504" width="144" height="79"/><text x="5661" y="519.5">regulation of<tspan x="5661" dy="14.5">all-trans-retinyl-ester</tspan><tspan x="5661" dy="14.5">hydrolase, 11-cis</tspan><tspan x="5661" dy="14.5">retinol forming</tspan><tspan x="5661" dy="14.5">activity</tspan></text></g>
<g id="n_neg_reg_hydrolase_activity"><rect class="w" x="5759" y="519" width="132" height="49"/><text x="5825" y="534">negative regulation<tspan x="5825" dy="14.5">of hydrolase</tspan><tspan x="5825" dy="14.5">activity</tspan></text></g>
<g id="n_neg_reg_small_molecule_metabolic_process"><rect class="w" x="5915" y="519" width="134" height="49"/><text x="5982" y="534">negative regulation<tspan x="5982" dy="14.5">of small molecule</tspan><tspan x="5982" dy="14.5">metabolic process</tspan></text></g>
<g id="n_cellular_lipid_metabolic_process"><rect class="w" x="6116" y="519" width="125" height="49"/><text x="6178.5" y="541.25">cellular lipid<tspan x="6178.5" dy="14.5">metabolic process</tspan></text></g>
<g id="n_lipid_catabolic_process"><rect class="w" x="6266" y="519" width="97" height="49"/><text x="6314.5" y="541.25">lipid catabolic<tspan x="6314.5" dy="14.5">process</tspan></text></g>
<g id="n_oxoacid_metabolic_process"><rect class="w" x="6387" y="519" width="126" height="49"/><text x="6450" y="541.25">oxoacid metabolic<tspan x="6450" dy="14.5">process</tspan></text></g>
<g id="n_organic_acid_catabolic_process"><rect class="w" x="6538" y="519" width="118" height="49"/><text x="6597" y="541.25">organic acid<tspan x="6597" dy="14.5">catabolic process</tspan></text></g>
<g id="n_transport_across_bbb"><rect class="w" x="2081" y="647" width="110" height="49"/><text x="2136" y="662">transport across<tspan x="2136" dy="14.5">blood-brain</tspan><tspan x="2136" dy="14.5">barrier</tspan></text></g>
<g id="n_lipid_transport"><rect class="l" x="2215" y="647" width="97" height="49"/><text x="2263.5" y="676.5">lipid transport</text></g>
<g id="n_organic_acid_transport"><rect class="w" x="2337" y="647" width="85" height="49"/><text x="2379.5" y="669.25">organic acid<tspan x="2379.5" dy="14.5">transport</tspan></text></g>
<g id="n_organic_anion_transport"><rect class="w" x="2447" y="647" width="94" height="49"/><text x="2494" y="669.25">organic anion<tspan x="2494" dy="14.5">transport</tspan></text></g>
<g id="n_carbohydrate_transport"><rect class="w" x="2565" y="647" width="92" height="49"/><text x="2611" y="669.25">carbohydrate<tspan x="2611" dy="14.5">transport</tspan></text></g>
<g id="n_import_into_cell"><rect class="w" x="2682" y="647" width="78" height="49"/><text x="2721" y="669.25">import into<tspan x="2721" dy="14.5">cell</tspan></text></g>
<g id="n_response_to_nutrient"><rect class="l" x="2835" y="647" width="83" height="49"/><text x="2876.5" y="669.25">response to<tspan x="2876.5" dy="14.5">nutrient</tspan></text></g>
<g id="n_cellular_response_to_hormone_stimulus"><rect class="w" x="3083" y="647" width="140" height="49"/><text x="3153" y="669.25">cellular response<tspan x="3153" dy="14.5">to hormone stimulus</tspan></text></g>
<g id="n_cellular_response_to_organonitrogen_compound"><rect class="w" x="3319" y="647" width="122" height="49"/><text x="3380" y="662">cellular response<tspan x="3380" dy="14.5">to organonitrogen</tspan><tspan x="3380" dy="14.5">compound</tspan></text></g>
<g id="n_response_to_peptide"><rect class="w" x="3482" y="647" width="83" height="49"/><text x="3523.5" y="669.25">response to<tspan x="3523.5" dy="14.5">peptide</tspan></text></g>
<g id="n_regulation_of_apoptotic_process"><rect class="w" x="3945" y="647" width="120" height="49"/><text x="4005" y="669.25">regulation of<tspan x="4005" dy="14.5">apoptotic process</tspan></text></g>
<g id="n_pos_reg_programmed_cell_death"><rect class="w" x="4091" y="647" width="127" height="49"/><text x="4154.5" y="662">positive regulation<tspan x="4154.5" dy="14.5">of programmed</tspan><tspan x="4154.5" dy="14.5">cell death</tspan></text></g>
<g id="n_enzyme_linked_receptor_pathway"><rect class="w" x="4510" y="647" width="125" height="49"/><text x="4572.5" y="662">enzyme-linked<tspan x="4572.5" dy="14.5">receptor protein</tspan><tspan x="4572.5" dy="14.5">signaling pathway</tspan></text></g>
<g id="n_neg_reg_signal_transduction"><rect class="w" x="4761" y="647" width="146" height="49"/><text x="4834" y="669.25">negative regulation<tspan x="4834" dy="14.5">of signal transduction</tspan></text></g>
<g id="n_pos_reg_gtpase_activity"><rect class="w" x="5376" y="647" width="128" height="49"/><text x="5440" y="669.25">positive regulation<tspan x="5440" dy="14.5">of GTPase activity</tspan></text></g>
<g id="n_neg_reg_retinyl_ester_hydrolase"><rect class="c" x="5744" y="633" width="162" height="78"/><text x="5825" y="648">negative regulation<tspan x="5825" dy="14.5">of all-trans-retinyl-ester</tspan><tspan x="5825" dy="14.5">hydrolase, 11-cis</tspan><tspan x="5825" dy="14.5">retinol forming</tspan><tspan x="5825" dy="14.5">activity</tspan></text></g>
<g id="n_cellular_lipid_catabolic_process"><rect class="w" x="6250" y="647" width="118" height="49"/><text x="6309" y="669.25">cellular lipid<tspan x="6309" dy="14.5">catabolic process</tspan></text></g>
<g id="n_carboxylic_acid_metabolic_process"><rect class="w" x="6392" y="647" width="126" height="49"/><text x="6455" y="669.25">carboxylic acid<tspan x="6455" dy="14.5">metabolic process</tspan></text></g>
<g id="n_lipid_transport_across_bbb"><rect class="l" x="2089" y="761" width="125" height="49"/><text x="2151.5" y="776">lipid transport<tspan x="2151.5" dy="14.5">across blood-brain</tspan><tspan x="2151.5" dy="14.5">barrier</tspan></text></g>
<g id="n_carboxylic_acid_transport"><rect class="w" x="2328" y="761" width="103" height="49"/><text x="2379.5" y="783.25">carboxylic acid<tspan x="2379.5" dy="14.5">transport</tspan></text></g>
<g id="n_lipid_import_into_cell"><rect class="w" x="2485" y="761" width="80" height="49"/><text x="2525" y="783.25">lipid import<tspan x="2525" dy="14.5">into cell</tspan></text></g>
<g id="n_carbohydrate_transmembrane_transport"><rect class="w" x="2744" y="761" width="109" height="49"/><text x="2798.5" y="776">carbohydrate<tspan x="2798.5" dy="14.5">transmembrane</tspan><tspan x="2798.5" dy="14.5">transport</tspan></text></g>
<g id="n_response_to_peptide_hormone"><rect class="w" x="3305" y="761" width="117" height="49"/><text x="3363.5" y="783.25">response to<tspan x="3363.5" dy="14.5">peptide hormone</tspan></text></g>
<g id="n_cellular_response_to_peptide"><rect class="w" x="3497" y="761" width="117" height="49"/><text x="3555.5" y="783.25">cellular response<tspan x="3555.5" dy="14.5">to peptide</tspan></text></g>
<g id="n_pos_reg_apoptotic_process"><rect class="l" x="3941" y="761" width="128" height="49"/><text x="4005" y="776">positive regulation<tspan x="4005" dy="14.5">of apoptotic</tspan><tspan x="4005" dy="14.5">process</tspan></text></g>
<g id="n_activation_of_gtpase_activity"><rect class="l" x="5386" y="761" width="107" height="49"/><text x="5439.5" y="783.25">activation of<tspan x="5439.5" dy="14.5">GTPase activity</tspan></text></g>
<g id="n_monocarboxylic_acid_metabolic_process"><rect class="w" x="6348" y="761" width="110" height="49"/><text x="6403" y="776">monocarboxylic<tspan x="6403" dy="14.5">acid metabolic</tspan><tspan x="6403" dy="14.5">process</tspan></text></g>
<g id="n_carboxylic_acid_catabolic_process"><rect class="w" x="6482" y="761" width="118" height="49"/><text x="6541" y="783.25">carboxylic acid<tspan x="6541" dy="14.5">catabolic process</tspan></text></g>
<g id="n_monocarboxylic_acid_transport"><rect class="w" x="2320" y="866" width="109" height="49"/><text x="2374.5" y="883.25">monocarboxylic<tspan x="2374.5" dy="14.5">acid transport</tspan></text></g>
<g id="n_monosaccharide_transmembrane_transport"><rect class="w" x="2978" y="866" width="113" height="49"/><text x="3034.5" y="876">monosaccharide<tspan x="3034.5" dy="14.5">transmembrane</tspan><tspan x="3034.5" dy="14.5">transport</tspan></text></g>
<g id="n_response_to_insulin"><rect class="w" x="3352" y="866" width="83" height="49"/><text x="3393.5" y="883.25">response to<tspan x="3393.5" dy="14.5">insulin</tspan></text></g>
<g id="n_cellular_response_to_peptide_hormone_stimulus"><rect class="w" x="3474" y="866" width="134" height="49"/><text x="3541" y="876">cellular response<tspan x="3541" dy="14.5">to peptide hormone</tspan><tspan x="3541" dy="14.5">stimulus</tspan></text></g>
<g id="n_rtk_signaling_pathway"><rect class="w" x="4510" y="858" width="125" height="65"/><text x="4572.5" y="873.75">transmembrane<tspan x="4572.5" dy="14.5">receptor protein</tspan><tspan x="4572.5" dy="14.5">tyrosine kinase</tspan><tspan x="4572.5" dy="14.5">signaling pathway</tspan></text></g>
<g id="n_fatty_acid_metabolic_process"><rect class="c" x="6126" y="866" width="136" height="49"/><text x="6194" y="883.25">fatty acid metabolic<tspan x="6194" dy="14.5">process</tspan></text></g>
<g id="n_monocarboxylic_acid_catabolic_process"><rect class="w" x="6348" y="866" width="110" height="49"/><text x="6403" y="876">monocarboxylic<tspan x="6403" dy="14.5">acid catabolic</tspan><tspan x="6403" dy="14.5">process</tspan></text></g>
<g id="n_fatty_acid_transport"><rect class="l" x="2277" y="972" width="131" height="48"/><text x="2342.5" y="1001">fatty acid transport</text></g>
<g id="n_hexose_transmembrane_transport"><rect class="w" x="3206" y="972" width="160" height="48"/><text x="3286" y="993.75">hexose transmembrane<tspan x="3286" dy="14.5">transport</tspan></text></g>
<g id="n_cellular_response_to_insulin_stimulus"><rect class="w" x="3575" y="972" width="127" height="48"/><text x="3638.5" y="993.75">cellular response<tspan x="3638.5" dy="14.5">to insulin stimulus</tspan></text></g>
<g id="n_lcfa_metabolic_process"><rect class="c" x="5992" y="972" width="109" height="48"/><text x="6046.5" y="986.5">long-chain fatty<tspan x="6046.5" dy="14.5">acid metabolic</tspan><tspan x="6046.5" dy="14.5">process</tspan></text></g>
<g id="n_vlcfa_metabolic_process"><rect class="c" x="6126" y="972" width="136" height="48"/><text x="6194" y="986.5">very long-chain<tspan x="6194" dy="14.5">fatty acid metabolic</tspan><tspan x="6194" dy="14.5">process</tspan></text></g>
<g id="n_fatty_acid_catabolic_process"><rect class="w" x="6288" y="972" width="130" height="48"/><text x="6353" y="993.75">fatty acid catabolic<tspan x="6353" dy="14.5">process</tspan></text></g>
<g id="n_lcfa_transport"><rect class="c" x="2224" y="1070" width="109" height="49"/><text x="2278.5" y="1087.25">long-chain fatty<tspan x="2278.5" dy="14.5">acid transport</tspan></text></g>
<g id="n_mcfa_transport"><rect class="c" x="2357" y="1070" width="131" height="49"/><text x="2422.5" y="1087.25">medium-chain<tspan x="2422.5" dy="14.5">fatty acid transport</tspan></text></g>
<g id="n_glucose_transmembrane_transport"><rect class="w" x="3308" y="1070" width="164" height="49"/><text x="3390" y="1087.25">glucose transmembrane<tspan x="3390" dy="14.5">transport</tspan></text></g>
<g id="n_reg_cellular_response_to_insulin"><rect class="w" x="4150" y="1070" width="126" height="49"/><text x="4213" y="1080">regulation of<tspan x="4213" dy="14.5">cellular response</tspan><tspan x="4213" dy="14.5">to insulin stimulus</tspan></text></g>
<g id="n_insulin_receptor_signaling_pathway"><rect class="w" x="4561" y="1070" width="126" height="49"/><text x="4624" y="1087.25">insulin receptor<tspan x="4624" dy="14.5">signaling pathway</tspan></text></g>
<g id="n_vlcfa_catabolic_process"><rect class="c" x="6208" y="1070" width="130" height="49"/><text x="6273" y="1080">very long-chain<tspan x="6273" dy="14.5">fatty acid catabolic</tspan><tspan x="6273" dy="14.5">process</tspan></text></g>
<g id="n_lcfa_import_into_cell"><rect class="c" x="2346" y="1176" width="109" height="48"/><text x="2400.5" y="1190.5">long-chain fatty<tspan x="2400.5" dy="14.5">acid import</tspan><tspan x="2400.5" dy="14.5">into cell</tspan></text></g>
<g id="n_glucose_import"><rect class="w" x="3380" y="1176" width="102" height="48"/><text x="3431" y="1205">glucose import</text></g>
<g id="n_neg_reg_cellular_response_to_insulin"><rect class="w" x="4357" y="1167" width="133" height="65"/><text x="4423.5" y="1182.75">negative regulation<tspan x="4423.5" dy="14.5">of cellular</tspan><tspan x="4423.5" dy="14.5">response to</tspan><tspan x="4423.5" dy="14.5">insulin stimulus</tspan></text></g>
<g id="n_reg_insulin_receptor_signaling"><rect class="w" x="4661" y="1176" width="125" height="48"/><text x="4723.5" y="1190.5">regulation of<tspan x="4723.5" dy="14.5">insulin receptor</tspan><tspan x="4723.5" dy="14.5">signaling pathway</tspan></text></g>
<g id="n_glucose_import_in_response_to_insulin"><rect class="c" x="3412" y="1281" width="125" height="49"/><text x="3474.5" y="1296">glucose import<tspan x="3474.5" dy="14.5">in response</tspan><tspan x="3474.5" dy="14.5">to insulin stimulus</tspan></text></g>
<g id="n_neg_reg_insulin_receptor_signaling"><rect class="l" x="4607" y="1281" width="132" height="49"/><text x="4673" y="1296">negative regulation<tspan x="4673" dy="14.5">of insulin receptor</tspan><tspan x="4673" dy="14.5">signaling pathway</tspan></text></g>
</svg>
